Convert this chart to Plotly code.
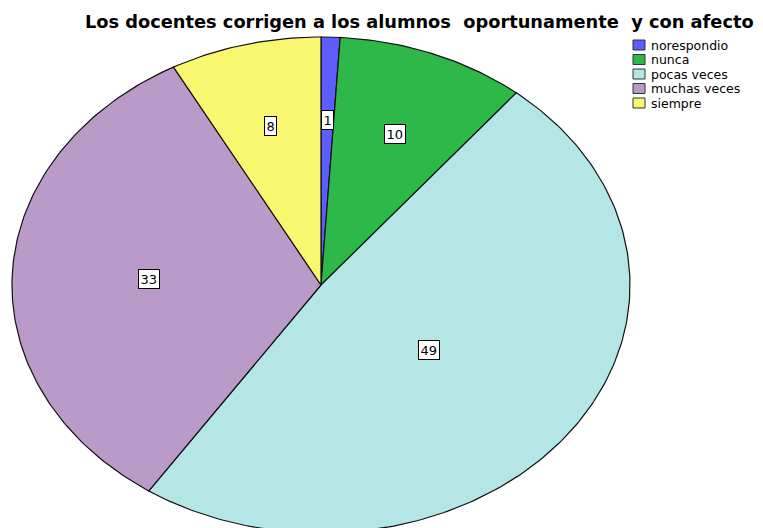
import numpy as np
import plotly.graph_objects as go

# datos del grafico (frecuencias)
categorias = ["norespondio", "nunca", "pocas veces", "muchas veces", "siempre"]
valores = [1, 10, 49, 33, 8]
colores = ["#5c5cff", "#2eb84a", "#b4e6e6", "#b99ac9", "#f9f76f"]
titulo = "Los docentes corrigen a los alumnos  oportunamente  y con afecto"

total = sum(valores)
fig = go.Figure()

# sectores de la "torta" eliptica (angulo horario desde arriba)
acum = 0
for cat, val, col in zip(categorias, valores, colores):
    a0 = acum / total * 2 * np.pi
    a1 = (acum + val) / total * 2 * np.pi
    t = np.linspace(a0, a1, max(int(val * 4), 8))
    xs = np.concatenate([[0], np.sin(t), [0]])
    ys = np.concatenate([[0], np.cos(t), [0]])
    fig.add_trace(go.Scatter(x=xs, y=ys, mode="lines", fill="toself", fillcolor=col,
                             line=dict(color="#111111", width=1.2), name=cat,
                             showlegend=False, hoverinfo="skip"))
    # etiqueta en el centroide del sector
    th = a1 - a0
    d = 4 * np.sin(th / 2) / (3 * th)
    am = (a0 + a1) / 2
    fig.add_annotation(x=d * np.sin(am), y=d * np.cos(am), text=str(val), showarrow=False,
                       font=dict(family="DejaVu Sans", size=13, color="black"),
                       bgcolor="white", bordercolor="black", borderwidth=1, borderpad=1.5)
    acum += val

# leyenda a mano (filas mas juntas que la de plotly)
# (el body de la pagina tiene 8px de margen, por eso todo va 8px corrido)
for i, (cat, col) in enumerate(zip(categorias, colores)):
    y0 = 32 + i * 14.5
    fig.add_shape(type="rect", xref="paper", yref="paper",
                  x0=625 / 763, x1=637 / 763, y0=1 - (y0 + 10) / 528, y1=1 - y0 / 528,
                  fillcolor=col, line=dict(color="#333333", width=1))
    fig.add_annotation(xref="paper", yref="paper", x=641 / 763, y=1 - (y0 + 5) / 528,
                       text=cat, showarrow=False, xanchor="left", yanchor="middle",
                       font=dict(family="DejaVu Sans", size=12.5, color="black"))

fig.add_annotation(xref="paper", yref="paper", x=412 / 763, y=1 - 13 / 528, text="<b>" + titulo + "</b>",
                   showarrow=False, xanchor="center", yanchor="middle",
                   font=dict(family="DejaVu Sans", size=17.8, color="black"))

fig.update_layout(width=763, height=528, margin=dict(l=0, r=0, t=0, b=0),
                  paper_bgcolor="white", plot_bgcolor="white", showlegend=False)
fig.update_xaxes(range=[-1.0129, 1.4563], visible=False)
fig.update_yaxes(range=[-1.0121, 1.1169], visible=False)

fig.write_html("out.html")
